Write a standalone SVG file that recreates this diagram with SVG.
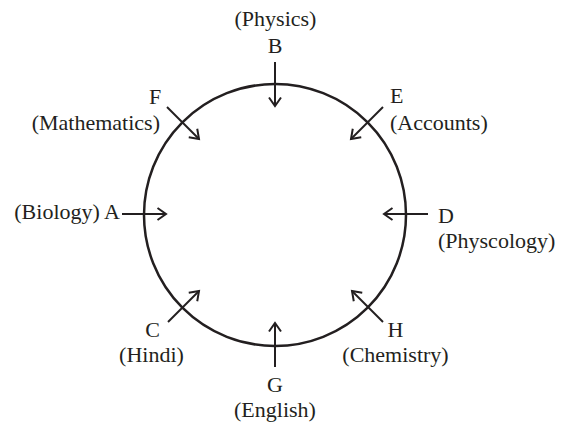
<svg xmlns="http://www.w3.org/2000/svg" width="571" height="422" viewBox="0 0 571 422">
<style>
text{font-family:"Liberation Serif","Times New Roman",serif;font-size:22px;fill:#231f20}
.c{stroke:#231f20;stroke-width:2.5;fill:none}
.a{stroke:#231f20;stroke-width:2;fill:none;marker-end:url(#h)}
</style>
<defs>
<marker id="h" markerUnits="userSpaceOnUse" markerWidth="20" markerHeight="20" refX="0" refY="0" viewBox="-12 -10 14 20" orient="auto" overflow="visible">
<path d="M-8.5,-6 L0,0 L-8.5,6" fill="none" stroke="#231f20" stroke-width="2"/>
</marker>
</defs>
<rect width="571" height="422" fill="#fff"/>
<g id="circle"><circle class="c" cx="275" cy="215" r="131"/></g>
<g id="connectors">
<line class="a" x1="275" y1="62" x2="275" y2="106"/>
<line class="a" x1="275" y1="367" x2="275" y2="323"/>
<line class="a" x1="122" y1="214" x2="166" y2="214"/>
<line class="a" x1="428" y1="214" x2="384" y2="214"/>
<line class="a" x1="167" y1="107" x2="199" y2="139"/>
<line class="a" x1="383" y1="107" x2="351" y2="139"/>
<line class="a" x1="168" y1="322" x2="199" y2="291"/>
<line class="a" x1="383" y1="322" x2="352" y2="291"/>
</g>
<g id="node-B"><text x="275.5" y="26" text-anchor="middle">(Physics)</text><text x="275" y="53" text-anchor="middle">B</text></g>
<g id="node-F"><text x="155" y="104" text-anchor="middle">F</text><text x="160" y="130" text-anchor="end">(Mathematics)</text></g>
<g id="node-E"><text x="390" y="103">E</text><text x="390" y="130">(Accounts)</text></g>
<g id="node-A"><text x="120" y="219" text-anchor="end">(Biology) A</text></g>
<g id="node-D"><text x="438" y="223">D</text><text x="438" y="248">(Physcology)</text></g>
<g id="node-C"><text x="152.5" y="337" text-anchor="middle">C</text><text x="151.5" y="362" text-anchor="middle">(Hindi)</text></g>
<g id="node-H"><text x="395.5" y="337" text-anchor="middle">H</text><text x="395.5" y="362" text-anchor="middle">(Chemistry)</text></g>
<g id="node-G"><text x="275" y="392" text-anchor="middle">G</text><text x="275" y="417" text-anchor="middle">(English)</text></g>
</svg>
